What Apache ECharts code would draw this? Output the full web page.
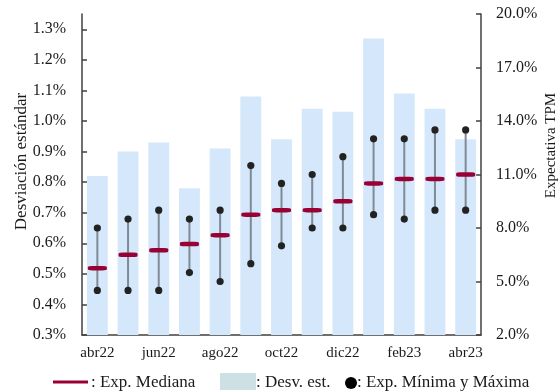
<!DOCTYPE html>
<html>
<head>
<meta charset="utf-8">
<script src="https://cdn.jsdelivr.net/npm/echarts@6/dist/echarts.min.js"></script>
<style>html,body{margin:0;padding:0;background:#fff;}#c{width:560px;height:392px;}</style>
</head>
<body>
<div id="c"></div>
<script>
const categories = ['abr22','may22','jun22','jul22','ago22','sep22','oct22','nov22','dic22','ene23','feb23','mar23','abr23'];
const stdDev = [0.82, 0.90, 0.93, 0.78, 0.91, 1.08, 0.94, 1.04, 1.03, 1.27, 1.09, 1.04, 0.94];
const medianExp = [5.75, 6.5, 6.75, 7.1, 7.6, 8.75, 9.0, 9.0, 9.5, 10.5, 10.75, 10.75, 11.0];
const minExp = [4.5, 4.5, 4.5, 5.5, 5.0, 6.0, 7.0, 8.0, 8.0, 8.75, 8.5, 9.0, 9.0];
const maxExp = [8.0, 8.5, 9.0, 8.5, 9.0, 11.5, 10.5, 11.0, 12.0, 13.0, 13.0, 13.5, 13.5];
const leftTicks = [0.3, 0.4, 0.5, 0.6, 0.7, 0.8, 0.9, 1.0, 1.1, 1.2, 1.3];
const rightTicks = [2, 5, 8, 11, 14, 17, 20];

const FONT = 'Liberation Serif';
const TXT = '#1a1a1a';
const AX = '#404040';

const chart = echarts.init(document.getElementById('c'), null, {renderer: 'canvas'});
chart.setOption({
  animation: false,
  backgroundColor: '#fff',
  textStyle: {fontFamily: FONT, color: TXT},
  grid: {left: 82, right: 79, top: 14, bottom: 57, containLabel: false, outerBoundsMode: 'none'},
  xAxis: {
    type: 'category',
    data: categories,
    boundaryGap: true,
    axisLine: {lineStyle: {color: AX, width: 1.5}},
    axisTick: {inside: true, length: 5, interval: 1, lineStyle: {color: AX, width: 1.5}},
    axisLabel: {interval: 1, fontFamily: FONT, fontSize: 15, color: TXT, margin: 11}
  },
  yAxis: [
    {
      type: 'value', position: 'left', min: 0.3, max: 1.35,
      name: 'Desviación estándar', nameLocation: 'middle', nameRotate: 90, nameGap: 52,
      nameMoveOverlap: false,
      nameTextStyle: {fontFamily: FONT, fontSize: 17, color: TXT, padding: [0, 0, 0, 26]},
      axisLine: {show: true, lineStyle: {color: AX, width: 1.5}},
      axisTick: {show: true, inside: true, length: 5, customValues: leftTicks, lineStyle: {color: AX, width: 1.5}},
      axisLabel: {customValues: leftTicks, fontFamily: FONT, fontSize: 16, color: TXT, margin: 16,
        formatter: v => v.toFixed(1) + '%'},
      splitLine: {show: false}
    },
    {
      type: 'value', position: 'right', min: 2, max: 20,
      name: 'Expectativa TPM', nameLocation: 'middle', nameRotate: 90, nameGap: 63,
      nameMoveOverlap: false,
      nameTextStyle: {fontFamily: FONT, fontSize: 15, color: TXT, padding: [0, 0, 0, 58]},
      axisLine: {show: true, lineStyle: {color: AX, width: 1.5}},
      axisTick: {show: true, inside: true, length: 5, customValues: rightTicks, lineStyle: {color: AX, width: 1.5}},
      axisLabel: {customValues: rightTicks, fontFamily: FONT, fontSize: 16, color: TXT, margin: 15,
        formatter: v => v.toFixed(1) + '%'},
      splitLine: {show: false}
    }
  ],
  series: [
    {
      name: 'Desv. est.', type: 'bar', yAxisIndex: 0, data: stdDev,
      barWidth: '68%', itemStyle: {color: '#d5e7fb'}, z: 1
    },
    {
      name: 'Exp. Mínima y Máxima', type: 'custom', yAxisIndex: 1, z: 3,
      data: categories.map((c, i) => [i, minExp[i], maxExp[i]]),
      encode: {x: 0, y: [1, 2]},
      renderItem: function (params, api) {
        const lo = api.coord([api.value(0), api.value(1)]);
        const hi = api.coord([api.value(0), api.value(2)]);
        return {
          type: 'group',
          children: [
            {type: 'line', shape: {x1: lo[0], y1: lo[1], x2: hi[0], y2: hi[1]}, style: {stroke: '#7f8a95', lineWidth: 2}},
            {type: 'circle', shape: {cx: lo[0], cy: lo[1], r: 3.6}, style: {fill: '#222'}},
            {type: 'circle', shape: {cx: hi[0], cy: hi[1], r: 3.6}, style: {fill: '#222'}}
          ]
        };
      }
    },
    {
      name: 'Exp. Mediana', type: 'scatter', yAxisIndex: 1, z: 4,
      data: medianExp, symbol: 'roundRect', symbolSize: [19, 4.5],
      itemStyle: {color: '#990033', opacity: 1}
    }
  ],
  graphic: [
    {type: 'line', shape: {x1: 53, y1: 382, x2: 88, y2: 382}, style: {stroke: '#990033', lineWidth: 3.2}},
    {type: 'text', x: 91, y: 383, style: {text: ': Exp. Mediana', font: '17px "Liberation Serif"', fill: TXT, verticalAlign: 'middle'}},
    {type: 'rect', shape: {x: 220, y: 373, width: 36, height: 17}, style: {fill: '#cde0e3'}},
    {type: 'text', x: 256, y: 383, style: {text: ': Desv. est.', font: '17px "Liberation Serif"', fill: TXT, verticalAlign: 'middle'}},
    {type: 'circle', shape: {cx: 351, cy: 383, r: 6}, style: {fill: '#000'}},
    {type: 'text', x: 357, y: 383, style: {text: ': Exp. Mínima y Máxima', font: '17px "Liberation Serif"', fill: TXT, verticalAlign: 'middle'}}
  ]
});
</script>
</body>
</html>
